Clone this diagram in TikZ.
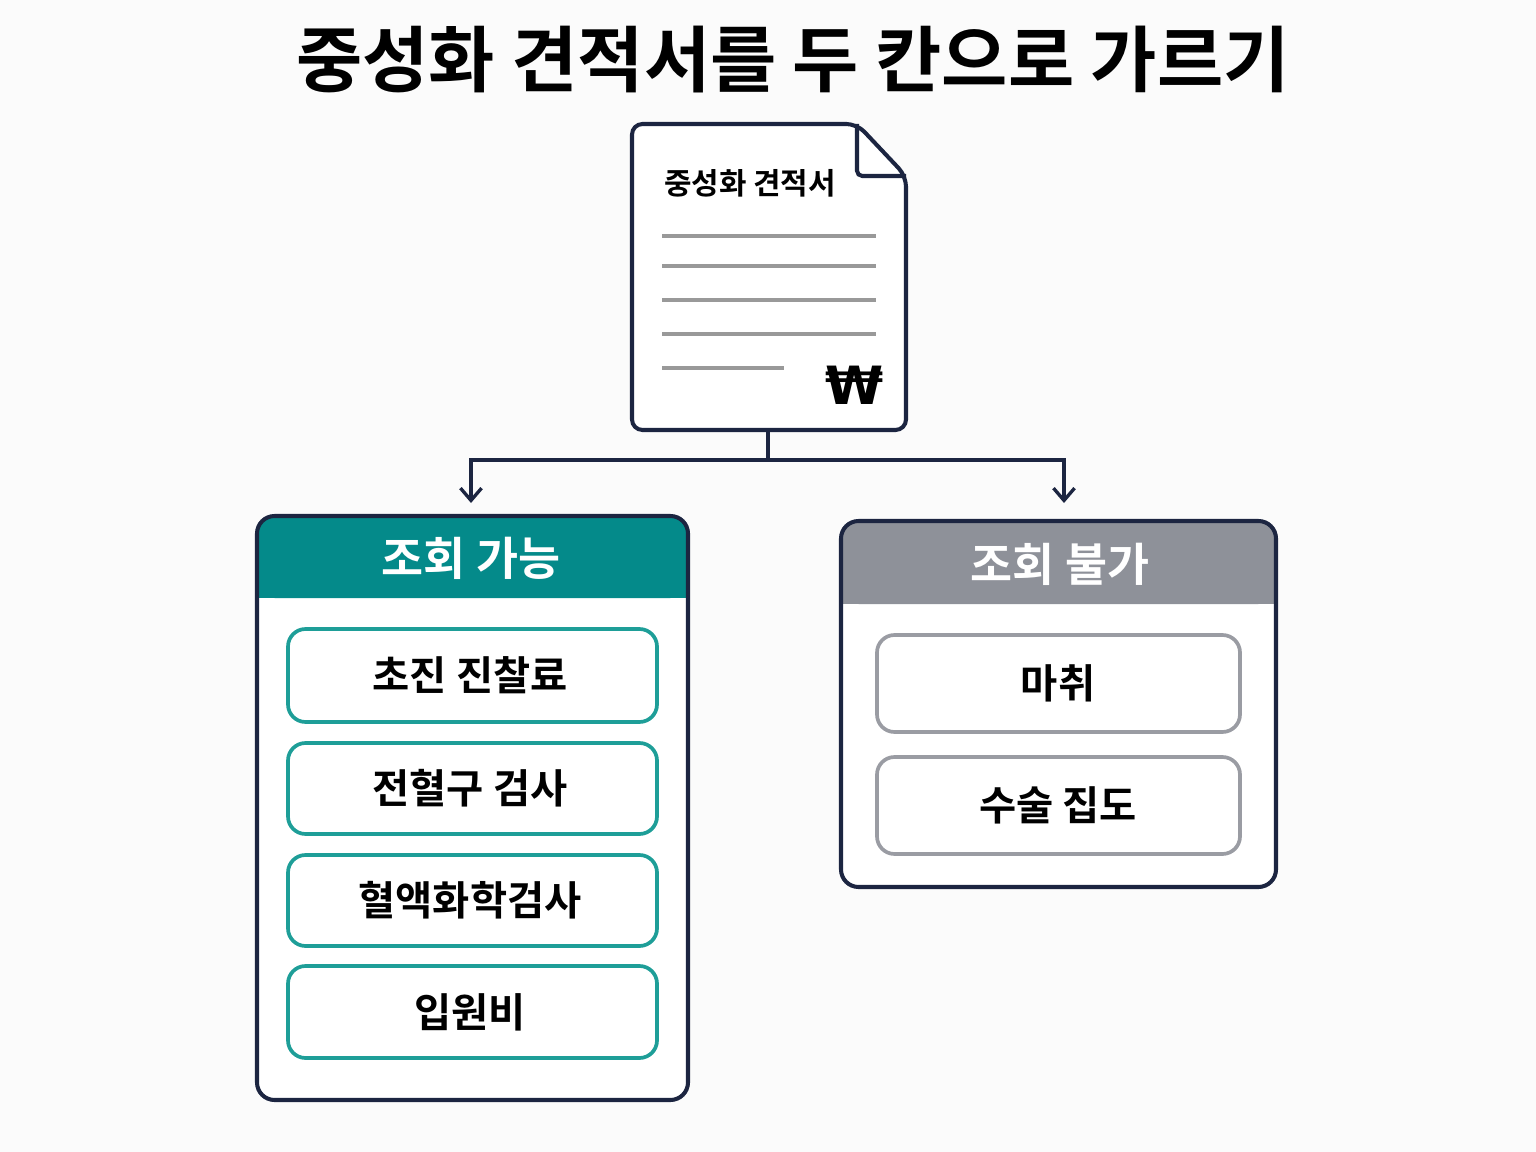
\documentclass[tikz,border=0pt]{standalone}
\usepackage{fontspec}
\newfontfamily\kr{Noto Sans CJK KR}[BoldFont={* Bold}]
\newfontfamily\djv{DejaVu Sans}
\usetikzlibrary{arrows.meta}
\definecolor{navy}{HTML}{1C2541}
\definecolor{teal1}{HTML}{048A8A}
\definecolor{teal2}{HTML}{1E9E98}
\definecolor{gray1}{HTML}{8E9199}
\definecolor{gray2}{HTML}{9A9CA3}
\definecolor{lgray}{HTML}{999999}
\begin{document}
\begin{tikzpicture}[x=0.02cm,y=-0.02cm,font=\kr,
 panel/.style={draw=navy,line width=2.3pt,rounded corners=10},
 item/.style={rounded corners=10,line width=2.1pt,fill=white},
 itxt/.style={font=\kr\bfseries\fontsize{23}{26}\selectfont,text=black},
 htxt/.style={font=\kr\bfseries\fontsize{26}{29}\selectfont,text=white},
 arr/.style={draw=navy,line width=1.9pt,-{Straight Barb[length=7pt,width=12pt,line width=1.9pt]}},
 dline/.style={draw=lgray,line width=1.8pt}]
\useasboundingbox[fill=white!97!gray] (0,0) rectangle (1536,1152);
\node[font=\kr\bfseries\fontsize{41}{45}\selectfont] (title) at (793,60) {중성화 견적서를 두 칸으로 가르기};
% document
\draw[navy,line width=2.3pt,fill=white,rounded corners=6] (632,124) -- (857,124) -- (906,176) -- (906,430) -- (632,430) -- cycle;
\draw[navy,line width=2.3pt,rounded corners=3] (857,124) -- (857,176) -- (906,176);
\coordinate (doc) at (768,430);
\node[anchor=west,font=\kr\bfseries\fontsize{17}{19}\selectfont] (dtitle) at (658,183) {중성화 견적서};
\foreach \yy in {236,266,300,334} \draw[dline] (662,\yy) -- (876,\yy);
\draw[dline] (662,368) -- (784,368);
\node[font=\djv\bfseries\fontsize{30}{32}\selectfont] (won) at (855,385) {₩};
% connectors
\coordinate (split) at (768,460);
\coordinate (la) at (471,503);
\coordinate (ra) at (1064,503);
\draw[navy,line width=1.9pt] (doc) -- (split);
\draw[arr] (split) -| (la);
\draw[arr] (split) -| (ra);
% left panel
\fill[white,rounded corners=10] (257,516) rectangle (688,1100);
\fill[teal1,rounded corners=10] (257,516) rectangle (688,598);
\fill[teal1] (257,560) rectangle (688,598);
\draw[panel] (257,516) rectangle (688,1100);
\node[htxt] (lh) at (471,558) {조회 가능};
\foreach \n/\a/\b/\t in {l1/629/722/초진 진찰료,l2/743/834/전혈구 검사,l3/855/946/혈액화학검사,l4/966/1058/입원비}{
 \draw[item,draw=teal2] (288,\a) rectangle (657,\b);
 \node[itxt] (\n) at (470,{(\a+\b)/2}) {\t};}
% right panel
\fill[white,rounded corners=10] (841,521) rectangle (1276,887);
\fill[gray1,rounded corners=10] (841,521) rectangle (1276,604);
\fill[gray1] (841,565) rectangle (1276,604);
\draw[panel] (841,521) rectangle (1276,887);
\node[htxt] (rh) at (1060,564) {조회 불가};
\foreach \n/\a/\b/\t in {r1/635/732/마취,r2/757/854/수술 집도}{
 \draw[item,draw=gray2] (877,\a) rectangle (1240,\b);
 \node[itxt] (\n) at (1058,{(\a+\b)/2}) {\t};}
\end{tikzpicture}
\end{document}
